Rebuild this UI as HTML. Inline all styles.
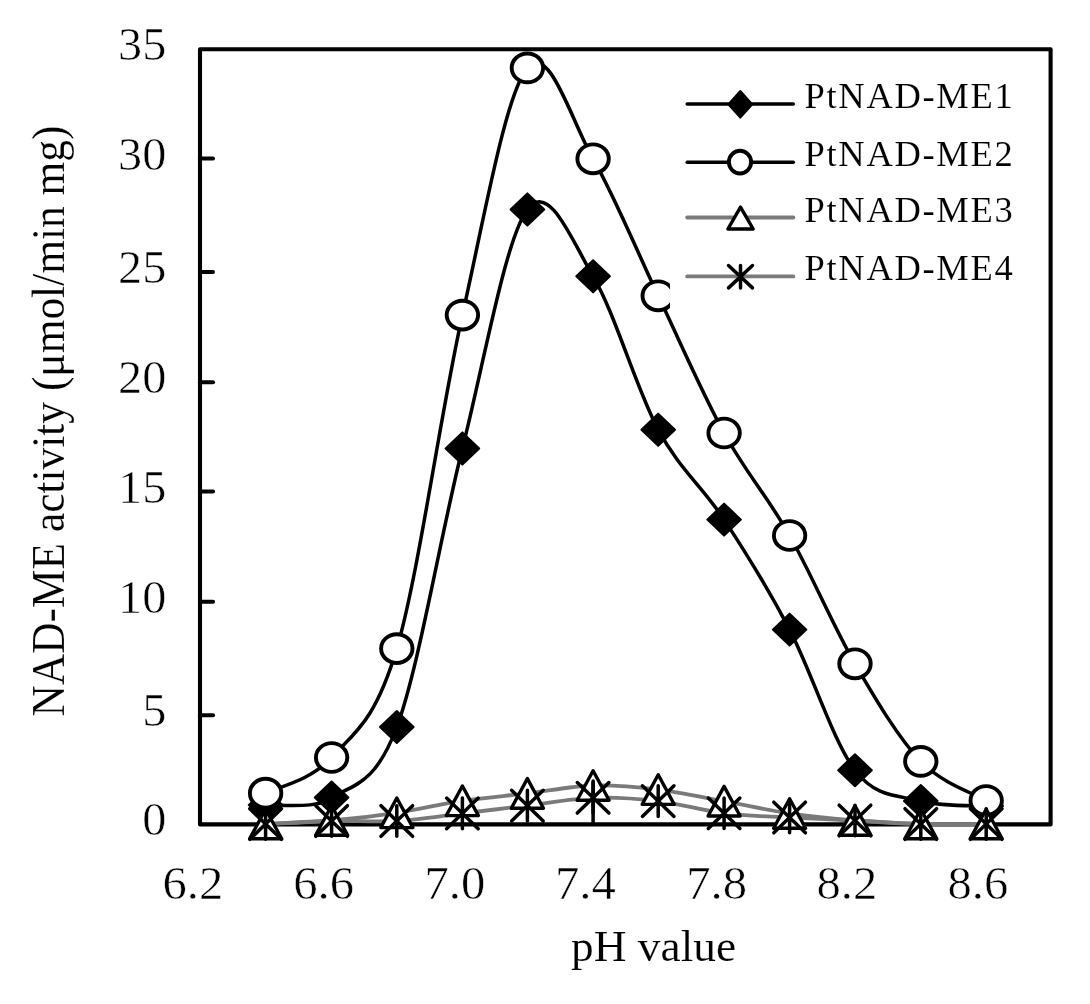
<!DOCTYPE html>
<html><head><meta charset="utf-8"><title>NAD-ME activity vs pH</title><style>
html,body{margin:0;padding:0;background:#fff;}
svg{display:block;filter:grayscale(1);}
text{font-family:"Liberation Serif",serif;fill:#000;stroke:#fff;stroke-width:0.5px;}
.tk{font-size:45.5px;}
.lg{font-size:36.5px;letter-spacing:1.7px;stroke-width:0.1px;}
.ti{font-size:44.5px;stroke-width:0.15px;}
.yt{font-size:43.4px;stroke-width:0.15px;}
.ax{stroke:#000;stroke-width:4.1;fill:none;stroke-linecap:round;stroke-linejoin:round;}
.bl{stroke:#000;stroke-width:3.5;fill:none;stroke-linecap:round;}
.gl{stroke:#7a7a7a;stroke-width:3.8;fill:none;stroke-linecap:round;}
.dm{fill:#000;stroke:#000;stroke-width:2;stroke-linejoin:round;}
.ci{fill:#fff;stroke:#000;stroke-width:3.9;}
.tr{fill:#fff;stroke:#000;stroke-width:3.4;stroke-linejoin:round;}
.as{fill:none;stroke:#000;stroke-width:3.5;stroke-linecap:round;}
</style></head><body>
<svg width="1090" height="1004" viewBox="0 0 1090 1004">
<rect x="0" y="0" width="1090" height="1004" fill="#fff"/>
<rect x="200" y="49.2" width="850.6" height="775.2" class="ax"/>
<path d="M200,158.5 H213" class="ax"/>
<path d="M200,272.0 H213" class="ax"/>
<path d="M200,382.2 H213" class="ax"/>
<path d="M200,491.5 H213" class="ax"/>
<path d="M200,601.8 H213" class="ax"/>
<path d="M200,715.2 H213" class="ax"/>
<path d="M265.6,805.0 C290.0,805.2 322.0,808.0 331.6,797.5 C353.5,784.5 375.0,785.2 396.8,727.0 C418.6,668.8 440.6,534.8 462.4,448.5 C484.2,362.2 505.6,238.2 527.4,209.5 C549.2,180.8 571.3,239.6 593.1,276.3 C614.9,313.0 636.4,389.1 658.2,429.7 C680.0,470.2 702.2,486.3 724.1,519.6 C746.0,552.9 767.8,587.8 789.6,629.6 C811.4,671.4 833.1,741.6 855.0,770.2 C876.9,798.8 898.9,795.0 920.8,801.0 C942.7,807.0 975.3,805.2 986.2,806.0" class="bl"/>
<path d="M265.6,793.2 C276.6,787.2 309.7,781.6 331.6,757.5 C353.5,733.4 375.0,722.3 396.8,648.6 C418.6,574.9 440.6,411.9 462.4,315.1 C484.2,218.3 505.6,94.0 527.4,67.9 C549.2,41.9 571.3,120.8 593.1,158.8 C614.9,196.8 636.4,250.1 658.2,295.8 C680.0,341.5 702.2,393.1 724.1,433.0 C746.0,472.9 767.8,497.0 789.6,535.5 C811.4,574.0 833.1,626.1 855.0,663.8 C876.9,701.4 898.9,738.6 920.8,761.4 C942.7,784.2 975.3,794.0 986.2,800.5" class="bl"/>
<path d="M265.6,824.0 C276.6,823.4 309.7,822.4 331.6,820.5 C353.5,818.6 375.0,816.1 396.8,812.8 C418.6,809.5 440.6,804.0 462.4,800.8 C484.2,797.6 505.6,795.9 527.4,793.4 C549.2,790.9 571.3,786.1 593.1,785.5 C614.9,784.9 636.4,787.0 658.2,789.6 C680.0,792.2 702.2,797.2 724.1,801.2 C746.0,805.2 767.8,810.3 789.6,813.5 C811.4,816.7 833.1,818.8 855.0,820.5 C876.9,822.2 898.9,823.4 920.8,824.0 C942.7,824.6 975.3,824.0 986.2,824.0" class="gl"/>
<path d="M265.6,824.0 C276.6,823.5 309.7,821.5 331.6,821.0 C353.5,820.5 375.0,822.3 396.8,821.0 C418.6,819.7 440.6,816.0 462.4,813.4 C484.2,810.8 505.6,808.2 527.4,805.6 C549.2,803.0 571.3,798.5 593.1,797.8 C614.9,797.0 636.4,798.5 658.2,801.1 C680.0,803.7 702.2,810.6 724.1,813.3 C746.0,816.0 767.8,816.3 789.6,817.5 C811.4,818.7 833.1,819.4 855.0,820.5 C876.9,821.6 898.9,823.4 920.8,824.0 C942.7,824.6 975.3,824.0 986.2,824.0" class="gl"/>
<path d="M265.6,789.0 L282.4,805.0 L265.6,821.0 L248.8,805.0 Z" class="dm"/>
<path d="M331.6,781.5 L348.4,797.5 L331.6,813.5 L314.8,797.5 Z" class="dm"/>
<path d="M396.8,711.0 L413.6,727.0 L396.8,743.0 L380.0,727.0 Z" class="dm"/>
<path d="M462.4,432.4 L479.2,448.5 L462.4,464.6 L445.6,448.5 Z" class="dm"/>
<path d="M527.4,193.4 L544.2,209.5 L527.4,225.6 L510.6,209.5 Z" class="dm"/>
<path d="M593.1,260.2 L609.9,276.3 L593.1,292.4 L576.3,276.3 Z" class="dm"/>
<path d="M658.2,413.6 L675.0,429.7 L658.2,445.8 L641.4,429.7 Z" class="dm"/>
<path d="M724.1,503.6 L740.9,519.6 L724.1,535.6 L707.3,519.6 Z" class="dm"/>
<path d="M789.6,613.6 L806.4,629.6 L789.6,645.6 L772.8,629.6 Z" class="dm"/>
<path d="M855.0,754.2 L871.8,770.2 L855.0,786.2 L838.2,770.2 Z" class="dm"/>
<path d="M920.8,785.0 L937.6,801.0 L920.8,817.0 L904.0,801.0 Z" class="dm"/>
<path d="M986.2,790.0 L1003.0,806.0 L986.2,822.0 L969.4,806.0 Z" class="dm"/>
<ellipse cx="265.6" cy="793.2" rx="15.7" ry="14.4" class="ci"/>
<ellipse cx="331.6" cy="757.5" rx="15.7" ry="14.4" class="ci"/>
<ellipse cx="396.8" cy="648.6" rx="15.7" ry="14.4" class="ci"/>
<ellipse cx="462.4" cy="315.1" rx="15.7" ry="14.4" class="ci"/>
<ellipse cx="527.4" cy="67.9" rx="15.7" ry="14.4" class="ci"/>
<ellipse cx="593.1" cy="158.8" rx="15.7" ry="14.4" class="ci"/>
<ellipse cx="658.2" cy="295.8" rx="15.7" ry="14.4" class="ci"/>
<ellipse cx="724.1" cy="433.0" rx="15.7" ry="14.4" class="ci"/>
<ellipse cx="789.6" cy="535.5" rx="15.7" ry="14.4" class="ci"/>
<ellipse cx="855.0" cy="663.8" rx="15.7" ry="14.4" class="ci"/>
<ellipse cx="920.8" cy="761.4" rx="15.7" ry="14.4" class="ci"/>
<ellipse cx="986.2" cy="800.5" rx="15.7" ry="14.4" class="ci"/>
<path d="M265.6,809.2 L281.7,838.8 L249.6,838.8 Z" class="tr"/>
<path d="M331.6,805.7 L347.7,835.3 L315.6,835.3 Z" class="tr"/>
<path d="M396.8,798.0 L412.9,827.6 L380.8,827.6 Z" class="tr"/>
<path d="M462.4,786.0 L478.4,815.6 L446.3,815.6 Z" class="tr"/>
<path d="M527.4,778.6 L543.4,808.2 L511.3,808.2 Z" class="tr"/>
<path d="M593.1,770.7 L609.1,800.3 L577.1,800.3 Z" class="tr"/>
<path d="M658.2,774.8 L674.2,804.4 L642.2,804.4 Z" class="tr"/>
<path d="M724.1,786.4 L740.1,816.0 L708.1,816.0 Z" class="tr"/>
<path d="M789.6,798.7 L805.6,828.3 L773.6,828.3 Z" class="tr"/>
<path d="M855.0,805.7 L871.0,835.3 L839.0,835.3 Z" class="tr"/>
<path d="M920.8,809.2 L936.8,838.8 L904.8,838.8 Z" class="tr"/>
<path d="M986.2,809.2 L1002.2,838.8 L970.2,838.8 Z" class="tr"/>
<path d="M593.1,781 L593.1,822" class="as"/>
<path d="M249.8,808.7 L281.4,839.3 M281.4,808.7 L249.8,839.3 M265.6,808.7 L265.6,839.3" class="as"/>
<path d="M315.8,805.7 L347.4,836.3 M347.4,805.7 L315.8,836.3 M331.6,805.7 L331.6,836.3" class="as"/>
<path d="M381.0,805.7 L412.6,836.3 M412.6,805.7 L381.0,836.3 M396.8,805.7 L396.8,836.3" class="as"/>
<path d="M446.6,798.1 L478.2,828.7 M478.2,798.1 L446.6,828.7 M462.4,798.1 L462.4,828.7" class="as"/>
<path d="M511.6,790.3 L543.2,820.9 M543.2,790.3 L511.6,820.9 M527.4,790.3 L527.4,820.9" class="as"/>
<path d="M577.3,782.5 L608.9,813.1 M608.9,782.5 L577.3,813.1 M593.1,782.5 L593.1,813.1" class="as"/>
<path d="M642.4,785.8 L674.0,816.4 M674.0,785.8 L642.4,816.4 M658.2,785.8 L658.2,816.4" class="as"/>
<path d="M708.3,798.0 L739.9,828.6 M739.9,798.0 L708.3,828.6 M724.1,798.0 L724.1,828.6" class="as"/>
<path d="M773.8,802.2 L805.4,832.8 M805.4,802.2 L773.8,832.8 M789.6,802.2 L789.6,832.8" class="as"/>
<path d="M839.2,805.2 L870.8,835.8 M870.8,805.2 L839.2,835.8 M855.0,805.2 L855.0,835.8" class="as"/>
<path d="M905.0,808.7 L936.6,839.3 M936.6,808.7 L905.0,839.3 M920.8,808.7 L920.8,839.3" class="as"/>
<path d="M970.4,808.7 L1002.0,839.3 M1002.0,808.7 L970.4,839.3 M986.2,808.7 L986.2,839.3" class="as"/>
<rect x="670" y="60" width="375" height="252" fill="#fff"/>
<path d="M687.2,104.0 H793.3" class="bl"/>
<path d="M740.3,91.0 L752.3,104.3 L740.3,117.7 L728.3,104.3 Z" class="dm"/>
<path d="M687.2,162.3 H793.3" class="bl"/>
<ellipse cx="740.0" cy="162.1" rx="11.1" ry="11.4" class="ci"/>
<path d="M687.2,217.5 H793.3" class="gl"/>
<path d="M740.5,207.1 L753.2,229.0 L727.9,229.0 Z" class="tr"/>
<path d="M687.2,276.4 H793.3" class="gl"/>
<path d="M728.5,265.5 L752.5,287.9 M752.5,265.5 L728.5,287.9 M740.5,265.5 L740.5,287.9" class="as"/>
<text x="804.5" y="108.3" class="lg">PtNAD-ME1</text>
<text x="804.5" y="166.3" class="lg">PtNAD-ME2</text>
<text x="804.5" y="221.7" class="lg">PtNAD-ME3</text>
<text x="804.5" y="279.9" class="lg">PtNAD-ME4</text>
<text transform="translate(166.3,59.8) scale(1.06,1)" text-anchor="end" class="tk">35</text>
<text transform="translate(166.3,169.7) scale(1.06,1)" text-anchor="end" class="tk">30</text>
<text transform="translate(166.3,283.2) scale(1.06,1)" text-anchor="end" class="tk">25</text>
<text transform="translate(166.3,393.4) scale(1.06,1)" text-anchor="end" class="tk">20</text>
<text transform="translate(166.3,502.7) scale(1.06,1)" text-anchor="end" class="tk">15</text>
<text transform="translate(166.3,613.0) scale(1.06,1)" text-anchor="end" class="tk">10</text>
<text transform="translate(166.3,726.4) scale(1.06,1)" text-anchor="end" class="tk">5</text>
<text transform="translate(166.3,835.2) scale(1.06,1)" text-anchor="end" class="tk">0</text>
<text transform="translate(192.9,898.5) scale(1.07,1)" text-anchor="middle" class="tk">6.2</text>
<text transform="translate(323.7,898.5) scale(1.07,1)" text-anchor="middle" class="tk">6.6</text>
<text transform="translate(454.8,898.5) scale(1.07,1)" text-anchor="middle" class="tk">7.0</text>
<text transform="translate(585.3,898.5) scale(1.07,1)" text-anchor="middle" class="tk">7.4</text>
<text transform="translate(716.6,898.5) scale(1.07,1)" text-anchor="middle" class="tk">7.8</text>
<text transform="translate(846.9,898.5) scale(1.07,1)" text-anchor="middle" class="tk">8.2</text>
<text transform="translate(977.9,898.5) scale(1.07,1)" text-anchor="middle" class="tk">8.6</text>
<text transform="translate(63.8,716.5) rotate(-90) scale(1,1.06)" class="yt">NAD-ME activity (μmol/min mg)</text>
<text transform="translate(653.6,961.4) scale(1.02,1)" text-anchor="middle" class="ti">pH value</text>
</svg>
</body></html>
